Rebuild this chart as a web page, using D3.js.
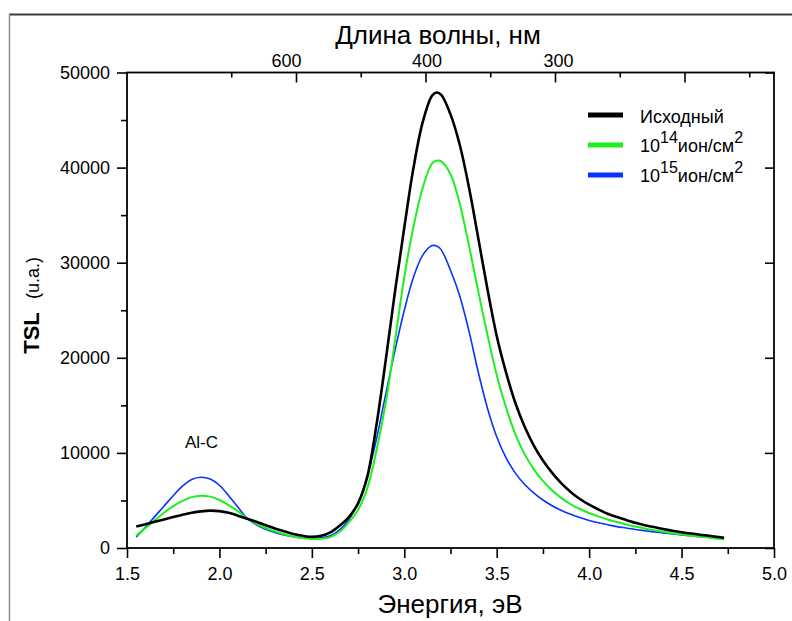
<!DOCTYPE html>
<html>
<head>
<meta charset="utf-8">
<script src="https://cdn.jsdelivr.net/npm/d3@7"></script>
<style>
  html, body { margin: 0; padding: 0; background: #fff; }
  svg { display: block; }
  text { font-family: "Liberation Sans", Arial, sans-serif; fill: #000; }
</style>
</head>
<body>
<svg id="chart" width="792" height="621"></svg>
<script>
// ---------------- DATA ----------------
const energy = [1.55,1.60,1.65,1.70,1.75,1.80,1.85,1.90,1.95,2.00,2.05,2.10,2.15,2.20,2.25,2.30,2.35,2.40,2.45,2.50,
  2.55,2.60,2.65,2.70,2.75,2.80,2.85,2.90,2.95,3.00,3.05,3.10,3.15,3.175,3.20,3.25,3.30,3.35,3.40,3.45,3.50,
  3.55,3.60,3.65,3.70,3.75,3.80,3.85,3.90,3.95,4.00,4.05,4.10,4.15,4.20,4.25,4.30,4.35,4.40,4.45,4.50,
  4.55,4.60,4.65,4.70,4.73];

const initialVals = [2250,2500,2750,3000,3250,3500,3700,3850,3930,3880,3700,3400,3080,2750,2400,2050,1750,1480,1280,1170,
  1280,1650,2350,3250,4700,7500,13000,19800,27000,33700,40000,44800,47550,47900,47650,45600,42400,37900,32600,27200,22300,
  18500,15300,12800,10800,9200,7900,6800,5900,5150,4550,4050,3600,3250,2950,2650,2400,2200,2000,1820,1660,
  1520,1400,1280,1160,1080];

const dose14Vals = [1300,2100,2900,3700,4400,4950,5350,5500,5400,5050,4500,3850,3100,2550,2100,1750,1450,1220,1060,950,
  960,1150,1700,2700,4000,6300,10300,15300,21800,28500,33800,37900,40450,40720,40650,39300,36200,31800,27000,22400,18200,
  14800,12000,9900,8300,7050,6050,5250,4600,4100,3680,3320,3000,2730,2480,2260,2060,1870,1710,1560,1420,
  1300,1200,1100,960,900];

const dose15Vals = [1150,2200,3300,4400,5500,6500,7200,7440,7250,6600,5500,4300,3100,2450,1980,1640,1370,1180,1060,1010,
  1070,1280,1900,3000,4700,7500,11500,16200,20800,25000,28500,30800,31800,31750,31350,29200,26500,22800,18500,14700,11700,
  9500,7900,6700,5800,5050,4450,3950,3550,3200,2900,2650,2450,2250,2100,1950,1820,1700,1590,1480,1380,
  1280,1200,1120,1040,1000];

const seriesNames = ["Исходный", "10^14", "10^15"];
const seriesColors = ["#000000", "#1ef01e", "#0a32ff"];
const seriesWidths = [2.6, 2, 1.6];

const xTicks = [1.5, 2.0, 2.5, 3.0, 3.5, 4.0, 4.5, 5.0];
const xMinorTicks = [1.75, 2.25, 2.75, 3.25, 3.75, 4.25, 4.75];
const yTicks = [0, 10000, 20000, 30000, 40000, 50000];
const yMinorTicks = [5000, 15000, 25000, 35000, 45000];
const topMajor = [600, 400, 300, 240];
const topMajorLabels = ["600", "400", "300", ""];
const topMinor = [800, 480, 342.857, 266.667, 218.182];

// ---------------- LAYOUT ----------------
const L = 127, R = 774, T = 72.5, B = 548;
const topLabelDx = [-10, 1, 3, 0];
const svg = d3.select("#chart");

const x = d3.scaleLinear().domain([1.5, 5.0]).range([L, R]);
const y = d3.scaleLinear().domain([0, 50000]).range([B, T]);
// top axis: linear in 1/wavelength
const xTop = d3.scaleLinear().domain([1/600, 1/300]).range([296, 555]);

// outer figure border
svg.append("line").attr("x1", 9).attr("x2", 792).attr("y1", 14.5).attr("y2", 14.5)
  .attr("stroke", "#3a3a3a").attr("stroke-width", 2);
svg.append("line").attr("x1", 9.5).attr("x2", 9.5).attr("y1", 14).attr("y2", 621)
  .attr("stroke", "#8a8a8a").attr("stroke-width", 1.5);

const fontAxis = 18;

// bottom axis
const gB = svg.append("g").attr("transform", `translate(0,${B})`)
  .call(d3.axisBottom(x).tickValues(xTicks).tickSize(10).tickPadding(9).tickFormat(d3.format(".1f")));
gB.select(".domain").remove();
svg.append("g").attr("transform", `translate(0,${B})`)
  .call(d3.axisBottom(x).tickValues(xMinorTicks).tickSize(6).tickFormat(""))
  .select(".domain").remove();

// left axis
const gL = svg.append("g").attr("transform", `translate(${L},0)`)
  .call(d3.axisLeft(y).tickValues(yTicks).tickSize(10).tickPadding(7).tickFormat(d3.format("d")));
gL.select(".domain").remove();
svg.append("g").attr("transform", `translate(${L},0)`)
  .call(d3.axisLeft(y).tickValues(yMinorTicks).tickSize(6).tickFormat(""))
  .select(".domain").remove();

// right axis (inward ticks, major only)
svg.append("g").attr("transform", `translate(${R},0)`)
  .call(d3.axisLeft(y).tickValues(yTicks).tickSize(9).tickFormat(""))
  .select(".domain").remove();

// top axis (inward ticks)
const gT = svg.append("g").attr("transform", `translate(0,${T})`)
  .call(d3.axisTop(xTop).tickValues(topMajor.map(d => 1/d)).tickSizeInner(-10).tickSizeOuter(0).tickPadding(6)
    .tickFormat((d, i) => topMajorLabels[i]));
gT.select(".domain").remove();
gT.selectAll(".tick text").attr("dx", (d, i) => topLabelDx[i]);
svg.append("g").attr("transform", `translate(0,${T})`)
  .call(d3.axisTop(xTop).tickValues(topMinor.map(d => 1/d)).tickSizeInner(-5).tickSizeOuter(0).tickFormat(""))
  .select(".domain").remove();

svg.selectAll(".tick line").attr("stroke", "#000").attr("stroke-width", 1.6);
svg.selectAll(".tick text").attr("font-size", fontAxis).attr("fill", "#000")
  .style("font-family", '"Liberation Sans", Arial, sans-serif');

// frame
svg.append("rect").attr("x", L).attr("y", T).attr("width", R - L).attr("height", B - T)
  .attr("fill", "none").attr("stroke", "#000").attr("stroke-width", 1.8);

// curves
const allVals = [initialVals, dose14Vals, dose15Vals];
const line = d3.line()
  .x((d, i) => x(energy[i]))
  .y(d => y(d))
  .curve(d3.curveCatmullRom.alpha(0.5));

[2, 1, 0].forEach(k => {
  svg.append("path")
    .attr("d", line(allVals[k]))
    .attr("fill", "none")
    .attr("stroke", seriesColors[k])
    .attr("stroke-width", seriesWidths[k])
    .attr("stroke-linejoin", "round");
});

// axis titles
svg.append("text").attr("x", 450).attr("y", 613).attr("text-anchor", "middle")
  .attr("font-size", 26).text("Энергия, эВ");
svg.append("text").attr("x", 438).attr("y", 44).attr("text-anchor", "middle")
  .attr("font-size", 26).text("Длина волны, нм");
svg.append("text").attr("transform", "translate(39,333) rotate(-90)").attr("text-anchor", "middle")
  .attr("font-size", 22).attr("font-weight", "bold").text("TSL");
svg.append("text").attr("transform", "translate(39,278) rotate(-90)").attr("text-anchor", "middle")
  .attr("font-size", 18).text("(u.a.)");

// annotation
svg.append("text").attr("x", 185).attr("y", 448).attr("font-size", 17).text("Al-C");

// legend
const legendY = [115, 145, 175];
const legendTextY = [123, 152, 182];
seriesNames.forEach((name, k) => {
  svg.append("line").attr("x1", 588).attr("x2", 623).attr("y1", legendY[k]).attr("y2", legendY[k])
    .attr("stroke", seriesColors[k]).attr("stroke-width", 5);
  const t = svg.append("text").attr("x", 640).attr("y", legendTextY[k]).attr("font-size", 18);
  if (k === 0) {
    t.text(name);
  } else {
    const exp = name.split("^")[1];
    t.append("tspan").text("10");
    t.append("tspan").attr("dy", -9).attr("font-size", 16).text(exp);
    t.append("tspan").attr("dy", 9).text("ион/см");
    t.append("tspan").attr("dy", -9).attr("font-size", 16).text("2");
  }
});
</script>
</body>
</html>
